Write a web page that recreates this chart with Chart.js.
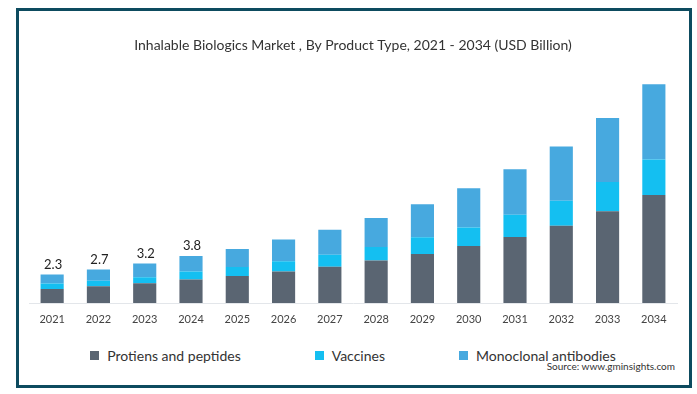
<!DOCTYPE html>
<html>
<head>
<meta charset="utf-8">
<title>Inhalable Biologics Market</title>
<script src="https://cdn.jsdelivr.net/npm/chart.js@4.4.1/dist/chart.umd.min.js"></script>
<style>
  html, body { margin: 0; padding: 0; background: #fff; }
  body { width: 697px; height: 394px; position: relative; overflow: hidden; font-family: Lato, 'Noto Sans', sans-serif; }
  .frame { position: absolute; left: 16px; top: 8px; width: 670px; height: 374px; border: 3px solid #0d4b5f; }
  .chart-box { position: absolute; left: 0; top: 0; width: 697px; height: 340px; }
  .legend { position: absolute; left: 29px; width: 648px; top: 347px; display: flex; justify-content: center; gap: 74px; font-size: 14px; color: #333; }
  .legend span { display: flex; align-items: center; }
  .legend i { display: inline-block; width: 9px; height: 9px; margin-right: 8px; }
  .source { position: absolute; right: 22px; top: 360px; font-size: 10px; color: #333; }
</style>
</head>
<body>
<div class="frame"></div>
<div class="chart-box"><canvas id="marketChart"></canvas></div>
<div class="legend" id="legend"></div>
<div class="source">Source: www.gminsights.com</div>

<script>
const years       = ['2021','2022','2023','2024','2025','2026','2027','2028','2029','2030','2031','2032','2033','2034'];
const proteins    = [1.13, 1.35, 1.60, 1.90, 2.18, 2.54, 2.94, 3.43, 3.96, 4.61, 5.34, 6.26, 7.42, 8.74];
const vaccines    = [0.44, 0.46, 0.49, 0.65, 0.73, 0.83, 0.97, 1.10, 1.35, 1.49, 1.81, 2.02, 2.37, 2.86];
const monoclonal  = [0.73, 0.91, 1.11, 1.26, 1.46, 1.76, 2.02, 2.35, 2.67, 3.18, 3.67, 4.39, 5.18, 6.09];
const totalLabels = ['2.3', '2.7', '3.2', '3.8'];

const SERIES = [
  { label: 'Protiens and peptides', data: proteins,   color: '#5a6572' },
  { label: 'Vaccines',              data: vaccines,   color: '#14bff1' },
  { label: 'Monoclonal antibodies', data: monoclonal, color: '#47a9df' },
];

// total labels above the first few bars
const totalsPlugin = {
  id: 'totals',
  afterDatasetsDraw(chart) {
    const { ctx } = chart;
    const top = chart.getDatasetMeta(SERIES.length - 1);
    ctx.save();
    ctx.font = '13px Lato, sans-serif';
    ctx.fillStyle = '#222';
    ctx.textAlign = 'center';
    ctx.textBaseline = 'middle';
    totalLabels.forEach((t, i) => {
      const bar = top.data[i];
      ctx.fillText(t, bar.x + 1, bar.y - 10);
    });
    ctx.restore();
  },
};

new Chart(document.getElementById('marketChart'), {
  type: 'bar',
  data: {
    labels: years,
    datasets: SERIES.map(s => ({
      label: s.label,
      data: s.data,
      backgroundColor: s.color,
      barPercentage: 0.5,
      categoryPercentage: 1,
    })),
  },
  options: {
    responsive: true,
    maintainAspectRatio: false,
    animation: false,
    layout: { padding: { top: 30, left: 29, right: 20, bottom: 10 } },
    plugins: {
      legend: { display: false },
      tooltip: { enabled: false },
      title: {
        display: true,
        text: 'Inhalable Biologics Market , By Product Type, 2021 - 2034 (USD Billion)',
        color: '#333',
        font: { family: 'Lato', size: 14, weight: 'normal' },
        padding: { top: 7, bottom: 2 },
      },
    },
    scales: {
      x: {
        stacked: true,
        grid: { display: false },
        border: { color: '#e3e6ea' },
        ticks: { color: '#444', font: { family: 'Lato', size: 11 }, padding: 2 },
        afterFit: s => { s.height = 27; },
      },
      y: { stacked: true, display: false, min: 0, max: 20 },
    },
  },
  plugins: [totalsPlugin],
});

document.getElementById('legend').innerHTML = SERIES
  .map(s => `<span><i style="background:${s.color}"></i>${s.label}</span>`)
  .join('');
</script>
</body>
</html>
